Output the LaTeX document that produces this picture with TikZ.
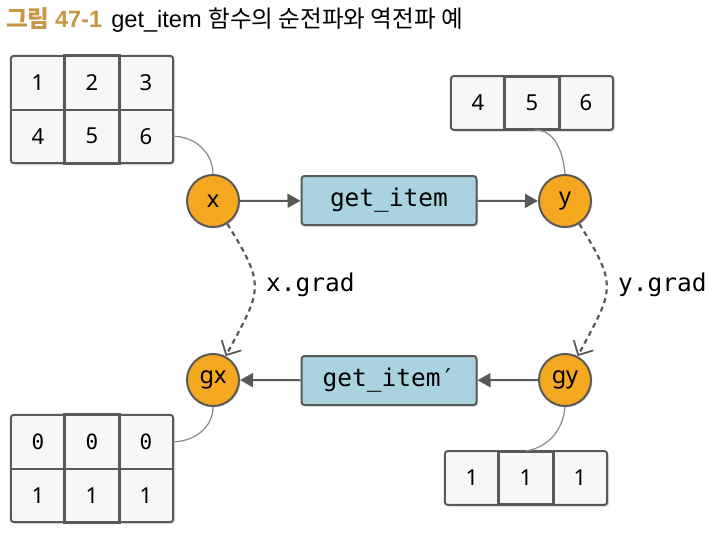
\documentclass[tikz,border=0pt]{standalone}
\usepackage{fontspec}
\setmainfont{Noto Sans}
\newfontfamily\krfont{Noto Sans CJK KR}
\newfontfamily\latfont{Liberation Sans}
\newfontfamily\monofont{DejaVu Sans Mono}
\usetikzlibrary{arrows.meta,shadows,calc}
\definecolor{linegray}{HTML}{595959}
\definecolor{thingray}{HTML}{8A8A8A}
\definecolor{cellfill}{HTML}{F7F7F7}
\definecolor{nodeorange}{HTML}{F5A81F}
\definecolor{boxblue}{HTML}{AAD3E0}
\definecolor{titlegold}{HTML}{C89646}
\tikzset{
  cell/.style={rectangle, fill=cellfill, minimum width=54pt, minimum height=53.5pt, inner sep=0pt, font=\fontsize{22}{24}\selectfont},
  vcirc/.style={circle, fill=nodeorange, draw=linegray, line width=2pt, minimum size=52pt, inner sep=0pt, font=\fontsize{23.5}{25}\selectfont,
    drop shadow={shadow xshift=1.5pt, shadow yshift=-1.5pt, opacity=0.25}},
  fbox/.style={rectangle, rounded corners=3pt, fill=boxblue, draw=linegray, line width=2pt, minimum width=175pt, minimum height=49pt, inner sep=0pt,
    font=\monofont\fontsize{24.5}{26}\selectfont, drop shadow={shadow xshift=1.5pt, shadow yshift=-1.5pt, opacity=0.25}},
  fwd/.style={-{Triangle[length=13pt,width=14pt]}, draw=linegray, fill=linegray, line width=2pt},
  grad/.style={-{Straight Barb[length=11pt,width=22pt,line width=1.8pt]}, draw=linegray, line width=2.2pt, dash pattern=on 5pt off 4pt},
  gradlabel/.style={font=\monofont\fontsize{24.5}{26}\selectfont, inner sep=0pt},
  link/.style={draw=thingray, line width=1.2pt},
  frame/.style={draw=linegray, line width=2pt, rounded corners=3pt},
  midcol/.style={draw=linegray, line width=3pt},
  gridline/.style={draw=linegray, line width=2pt},
}
\begin{document}
\begin{tikzpicture}[x=1pt,y=-1pt]
\useasboundingbox (0,0) rectangle (716,533);

% title
\node[anchor=base west, inner sep=0pt] (title) at (6,27)
  {\fontsize{23.6}{25}\selectfont{\bfseries\color{titlegold}\krfont 그림 \latfont 47-1}\hspace{9pt}\latfont get\_item \krfont 함수의 순전파와 역전파 예};

% ---------- top-left matrix
\fill[black,opacity=0.12,rounded corners=3pt] (13,58) rectangle (175,165);
\node[cell] (a11) at (38,82.75) {1};
\node[cell] (a12) at (92,82.75) {2};
\node[cell] (a13) at (146,82.75) {3};
\node[cell] (a21) at (38,136.25) {4};
\node[cell] (a22) at (92,136.25) {5};
\node[cell] (a23) at (146,136.25) {6};
\draw[gridline] (a11.south west) -- (a13.south east);
\draw[gridline] (a11.north east) -- (a21.south east);
\draw[gridline] (a12.north east) -- (a22.south east);
\draw[frame] (a11.north west) rectangle (a23.south east);
\draw[midcol] (a12.north west) rectangle (a22.south east);

% ---------- top-right vector
\fill[black,opacity=0.12,rounded corners=3pt] (453,78) rectangle (615,132);
\node[cell] (b1) at (478,103) {4};
\node[cell] (b2) at (532,103) {5};
\node[cell] (b3) at (586,103) {6};
\draw[gridline] (b1.north east) -- (b1.south east);
\draw[gridline] (b2.north east) -- (b2.south east);
\draw[frame] (b1.north west) rectangle (b3.south east);
\draw[midcol] (b2.north west) rectangle (b2.south east);

% ---------- bottom-left matrix
\fill[black,opacity=0.12,rounded corners=3pt] (13,417) rectangle (175,524);
\node[cell,font=\monofont\fontsize{21}{23}\selectfont] (c11) at (38,441.75) {0};
\node[cell,font=\monofont\fontsize{21}{23}\selectfont] (c12) at (92,441.75) {0};
\node[cell,font=\monofont\fontsize{21}{23}\selectfont] (c13) at (146,441.75) {0};
\node[cell] (c21) at (38,495.25) {1};
\node[cell] (c22) at (92,495.25) {1};
\node[cell] (c23) at (146,495.25) {1};
\draw[gridline] (c11.south west) -- (c13.south east);
\draw[gridline] (c11.north east) -- (c21.south east);
\draw[gridline] (c12.north east) -- (c22.south east);
\draw[frame] (c11.north west) rectangle (c23.south east);
\draw[midcol] (c12.north west) rectangle (c22.south east);

% ---------- bottom-right vector
\fill[black,opacity=0.12,rounded corners=3pt] (447,453) rectangle (609,507);
\node[cell] (d1) at (472,478) {1};
\node[cell] (d2) at (526,478) {1};
\node[cell] (d3) at (580,478) {1};
\draw[gridline] (d1.north east) -- (d1.south east);
\draw[gridline] (d2.north east) -- (d2.south east);
\draw[frame] (d1.north west) rectangle (d3.south east);
\draw[midcol] (d2.north west) rectangle (d2.south east);

% ---------- variable nodes
\node[vcirc] (x) at (213,201) {x};
\node[vcirc] (y) at (565,201) {y};
\node[vcirc] (gx) at (213,380) {gx};
\node[vcirc] (gy) at (565,380) {gy};

% ---------- function boxes
\node[fbox] (f) at (389,200.5) {get\_item};
\node[fbox] (fb) at (389,380.5) {get\_item′};

% ---------- forward / backward arrows
\draw[fwd] (x) -- (f);
\draw[fwd] (f) -- (y);
\draw[fwd] (gy) -- (fb);
\draw[fwd] (fb) -- (gx);

% ---------- gradient links
\draw[grad] (x.-58) to[out=-58, in=62, looseness=1.45] (gx.62);
\draw[grad] (y.-58) to[out=-58, in=62, looseness=1.45] (gy.62);
\node[gradlabel, anchor=west] (xg) at (266,285) {x.grad};
\node[gradlabel, anchor=west] (yg) at (618,285) {y.grad};

% ---------- data links
\draw[link] (a23.east) to[out=0, in=90] (x.north);
\draw[link] ($(b2.south)+(3,0)$) coordinate (bs) to[out=0, in=95] (y.north);
\draw[link] (gx.south) to[out=-90, in=0] (c13.east);
\draw[link] (gy.south) to[out=-95, in=10] (d2.north);
\end{tikzpicture}
\end{document}
